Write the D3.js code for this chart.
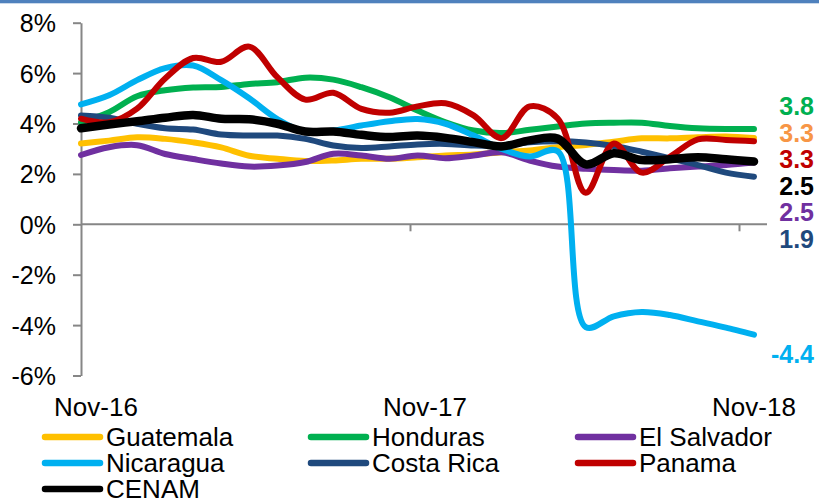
<!DOCTYPE html>
<html><head><meta charset="utf-8">
<script src="https://cdn.jsdelivr.net/npm/d3@7"></script>
<style>
body{margin:0;background:#fff;}
svg{display:block;font-family:"Liberation Sans",Arial,sans-serif;}
</style>
</head><body>
<svg id="c" width="819" height="498"></svg>
<script>
// ---- data ----
const months = ["Nov-16","Dec-16","Jan-17","Feb-17","Mar-17","Apr-17","May-17","Jun-17","Jul-17","Aug-17","Sep-17","Oct-17",
                "Nov-17","Dec-17","Jan-18","Feb-18","Mar-18","Apr-18","May-18","Jun-18","Jul-18","Aug-18","Sep-18","Oct-18","Nov-18"];
const guatemala  = [3.21,3.32,3.45,3.39,3.25,3.05,2.72,2.60,2.51,2.53,2.60,2.60,2.66,2.73,2.77,2.86,2.93,3.06,3.15,3.28,3.41,3.41,3.45,3.48,3.42];
const honduras   = [4.05,4.45,5.08,5.32,5.43,5.45,5.57,5.64,5.82,5.74,5.44,5.04,4.52,4.05,3.72,3.62,3.75,3.88,4.00,4.03,4.03,3.90,3.81,3.78,3.78];
const elSalvador = [2.75,3.06,3.14,2.79,2.59,2.41,2.29,2.33,2.47,2.80,2.73,2.60,2.73,2.62,2.73,2.86,2.53,2.29,2.20,2.15,2.13,2.22,2.29,2.35,2.45];
const nicaragua  = [4.76,5.12,5.72,6.20,6.30,5.72,5.00,4.18,3.66,3.72,3.92,4.09,4.18,3.99,3.52,2.99,2.69,2.90,-4.08,-3.65,-3.48,-3.60,-3.85,-4.10,-4.38];
const costaRica  = [4.32,4.23,3.99,3.81,3.76,3.56,3.52,3.52,3.39,3.13,3.03,3.09,3.17,3.19,3.13,3.13,3.26,3.30,3.25,3.11,2.88,2.62,2.35,2.05,1.89];
const panama     = [4.19,4.05,4.59,5.79,6.60,6.45,7.05,5.84,4.95,5.22,4.58,4.43,4.68,4.80,4.32,3.42,4.68,4.20,1.25,3.21,2.05,2.68,3.37,3.35,3.30];
const cenam      = [3.81,3.96,4.09,4.23,4.34,4.19,4.17,3.99,3.68,3.68,3.55,3.46,3.52,3.43,3.26,3.09,3.33,3.40,2.38,2.82,2.55,2.58,2.66,2.58,2.49];
const yTicks = [8,6,4,2,0,-2,-4,-6];
const xTickLabels = ["Nov-16","Nov-17","Nov-18"];
const endLabels = ["3.8","3.3","3.3","2.5","2.5","1.9","-4.4"];

// ---- styling / layout ----
const series = [
  {name:"Guatemala",  values:guatemala,  color:"#FFC000", w:6},
  {name:"Honduras",   values:honduras,   color:"#00B050", w:6},
  {name:"El Salvador",values:elSalvador, color:"#7030A0", w:6},
  {name:"Nicaragua",  values:nicaragua,  color:"#00B0F0", w:6},
  {name:"Costa Rica", values:costaRica,  color:"#1F497D", w:6},
  {name:"Panama",     values:panama,     color:"#C00000", w:6},
  {name:"CENAM",      values:cenam,      color:"#000000", w:8.5}
];
const endLabelColors = ["#00B050","#F79646","#C00000","#000000","#7030A0","#1F497D","#00B0F0"];
const axisColor = "#868686";

const svg = d3.select("#c");
svg.append("rect").attr("x",0).attr("y",0).attr("width",819).attr("height",3.3).attr("fill","#4F81BD");

const y = d3.scaleLinear().domain([-6, 8]).range([375.5, 22.7]);
const x = d3.scaleLinear().domain([0, months.length - 1]).range([81, 754]);
const xAxisScale = d3.scaleLinear().domain([0, 24]).range([81, 739]);

// y axis
const yAxis = svg.append("g").attr("transform","translate(81,0)")
  .call(d3.axisLeft(y).tickValues(yTicks).tickSize(8).tickSizeOuter(0).tickPadding(17)
        .tickFormat(d => d + "%"));
yAxis.select(".domain").attr("stroke", axisColor).attr("stroke-width", 2);
yAxis.selectAll(".tick line").attr("stroke", axisColor).attr("stroke-width", 2);
yAxis.selectAll(".tick text").attr("font-size", 25).attr("fill","#000")
  .attr("font-family","'Liberation Sans',Arial,sans-serif").attr("dy","0.36em");

// x axis (at 0%)
svg.append("line").attr("x1",81).attr("x2",767).attr("y1",y(0)).attr("y2",y(0))
  .attr("stroke",axisColor).attr("stroke-width",2);
const xAxis = svg.append("g").attr("transform",`translate(0,${y(0)})`)
  .call(d3.axisBottom(xAxisScale).tickValues([12,24]).tickSize(7).tickFormat(""));
xAxis.select(".domain").remove();
xAxis.selectAll(".tick line").attr("stroke",axisColor).attr("stroke-width",2);

svg.selectAll("text.xlab").data(xTickLabels).join("text")
  .attr("class","xlab")
  .attr("x",(d,i)=>xAxisScale(i*12)+15)
  .attr("y",416)
  .attr("text-anchor","middle")
  .attr("font-size",26)
  .attr("fill","#000")
  .text(d=>d);

// lines
const line = d3.line().x((d,i)=>x(i)).y(d=>y(d)).curve(d3.curveCatmullRom.alpha(0.5));
svg.append("g").selectAll("path").data(series).join("path")
  .attr("d", d => line(d.values))
  .attr("fill","none")
  .attr("stroke", d => d.color)
  .attr("stroke-width", d => d.w)
  .attr("stroke-linecap","round")
  .attr("stroke-linejoin","round");

// end labels
svg.selectAll("text.endlab").data(endLabels).join("text")
  .attr("class","endlab")
  .attr("x",814)
  .attr("y",(d,i)=> i < 6 ? 115 + i*26.6 : y(+d) + 28)
  .attr("text-anchor","end")
  .attr("font-size",25)
  .attr("font-weight","bold")
  .attr("fill",(d,i)=>endLabelColors[i])
  .text(d=>d);

// legend
const legCols = [45, 311, 578], legRows = [437, 463, 489];
const leg = svg.append("g").selectAll("g").data(series).join("g")
  .attr("transform",(d,i)=>`translate(${legCols[i%3]},${legRows[Math.floor(i/3)]})`);
leg.append("line").attr("x1",0).attr("x2",55).attr("y1",0).attr("y2",0)
  .attr("stroke",d=>d.color).attr("stroke-width",6.5).attr("stroke-linecap","round");
leg.append("text").attr("x",61).attr("y",9).attr("font-size",26).attr("fill","#000").text(d=>d.name);
</script>
</body></html>
